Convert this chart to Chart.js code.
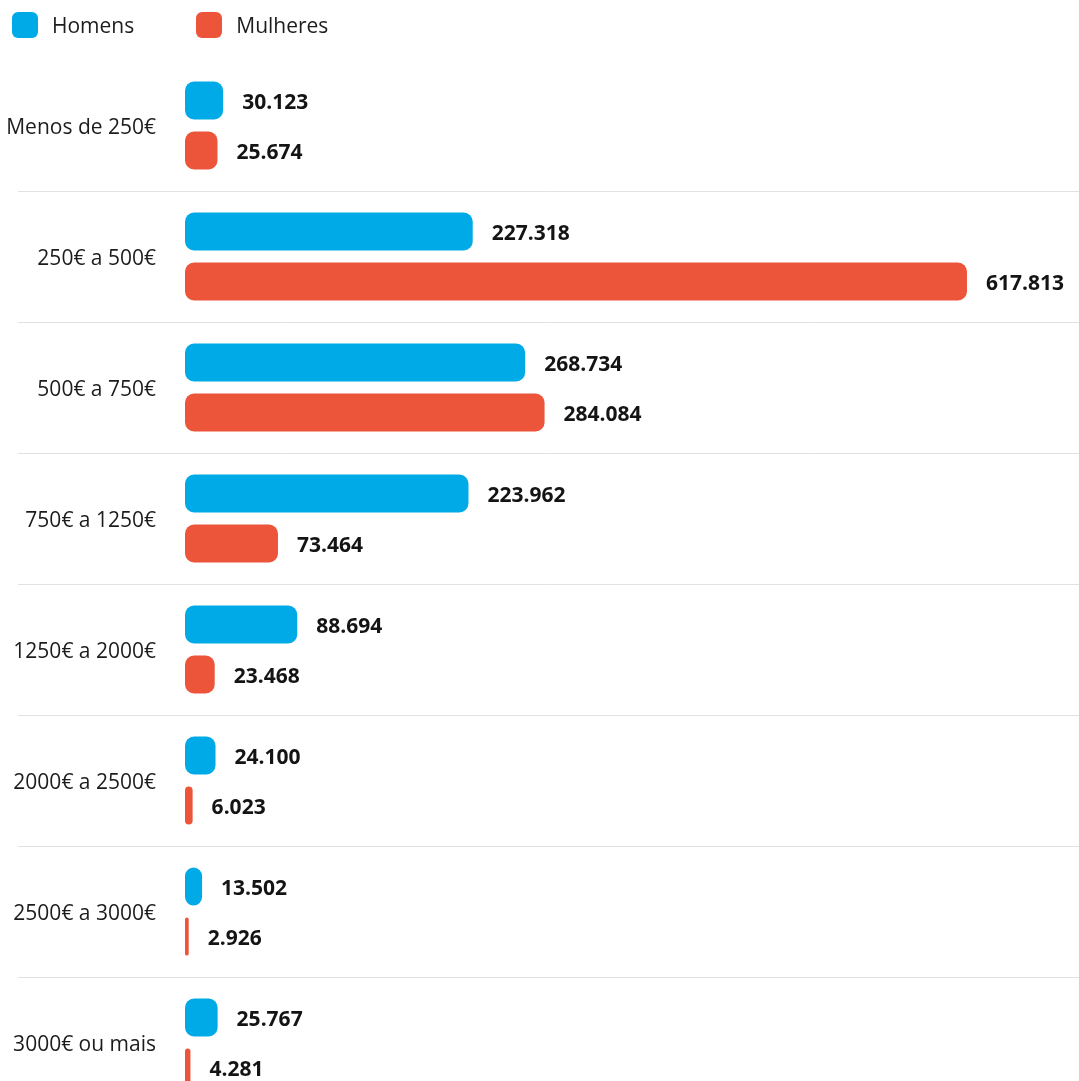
<!DOCTYPE html>
<html>
<head>
<meta charset="utf-8">
<script src="https://cdn.jsdelivr.net/npm/chart.js@4.4.1/dist/chart.umd.min.js"></script>
<style>
  html, body { margin: 0; padding: 0; background: #ffffff; overflow: hidden; }
  body { width: 1079px; height: 1081px; position: relative; font-family: "Open Sans", "Noto Sans", sans-serif; }
  #wrap { position: absolute; left: 0; top: 0; width: 1079px; height: 1108px; }
  #c { display: block; width: 1079px; height: 1108px; }
  #legend { position: absolute; left: 12px; top: 12px; display: flex; align-items: center; z-index: 2; }
  .item { display: flex; align-items: center; margin-right: 62px; }
  .box { width: 26px; height: 26px; border-radius: 6px; margin-right: 14px; }
  .txt { font-size: 21px; color: #1c1c1c; line-height: 26px; }
</style>
</head>
<body>
<div id="legend"></div>
<div id="wrap"><canvas id="c" width="1079" height="1108"></canvas></div>
<script>
const categories = ["Menos de 250€", "250€ a 500€", "500€ a 750€", "750€ a 1250€", "1250€ a 2000€", "2000€ a 2500€", "2500€ a 3000€", "3000€ ou mais"];
const seriesNames = ["Homens", "Mulheres"];
const homens = [30123, 227318, 268734, 223962, 88694, 24100, 13502, 25767];
const mulheres = [25674, 617813, 284084, 73464, 23468, 6023, 2926, 4281];
const colors = ["#00AAE6", "#EC553A"];
const xMax = 700000;

function fmt(v) {
  return String(v).replace(/\B(?=(\d{3})+(?!\d))/g, ".");
}

const FONT = "'Open Sans', 'Noto Sans', sans-serif";

const separators = {
  id: "separators",
  beforeDatasetsDraw(chart) {
    const y = chart.scales.y;
    const ctx = chart.ctx;
    ctx.save();
    ctx.strokeStyle = "#e2e2e2";
    ctx.lineWidth = 1;
    for (let i = 0; i < categories.length - 1; i++) {
      const a = y.getPixelForValue(i);
      const b = y.getPixelForValue(i + 1);
      const py = Math.round((a + b) / 2) + 0.5;
      ctx.beginPath();
      ctx.moveTo(18, py);
      ctx.lineTo(chart.width, py);
      ctx.stroke();
    }
    ctx.restore();
  }
};

const valueLabels = {
  id: "valueLabels",
  afterDatasetsDraw(chart) {
    const ctx = chart.ctx;
    ctx.save();
    ctx.font = "bold 21px " + FONT;
    ctx.fillStyle = "#141414";
    ctx.textAlign = "left";
    ctx.textBaseline = "middle";
    chart.data.datasets.forEach((ds, di) => {
      const meta = chart.getDatasetMeta(di);
      meta.data.forEach((bar, i) => {
        ctx.fillText(fmt(ds.data[i]), bar.x + 19, bar.y + 2.5);
      });
    });
    ctx.restore();
  }
};

const chart = new Chart(document.getElementById("c"), {
  type: "bar",
  data: {
    labels: categories,
    datasets: [
      { label: seriesNames[0], data: homens, backgroundColor: colors[0] },
      { label: seriesNames[1], data: mulheres, backgroundColor: colors[1] }
    ]
  },
  options: {
    indexAxis: "y",
    responsive: false,
    animation: false,
    layout: { padding: { top: 60, right: 8, bottom: 0, left: 0 } },
    datasets: {
      bar: {
        categoryPercentage: 0.7634,
        barPercentage: 0.76,
        borderRadius: 9,
        borderSkipped: false
      }
    },
    plugins: {
      legend: { display: false },
      tooltip: { enabled: false }
    },
    scales: {
      x: { display: false, min: 0, max: xMax },
      y: {
        grid: { display: false },
        border: { display: false },
        afterFit(scale) {
          scale.width = 185;
          scale.paddingTop = 0;
          scale.paddingBottom = 0;
        },
        ticks: {
          padding: 21,
          labelOffset: 2.5,
          color: "#1c1c1c",
          font: { family: FONT, size: 21 }
        }
      }
    }
  },
  plugins: [separators, valueLabels]
});

const legendEl = document.getElementById("legend");
chart.data.datasets.forEach((ds) => {
  const item = document.createElement("div");
  item.className = "item";
  const box = document.createElement("div");
  box.className = "box";
  box.style.background = ds.backgroundColor;
  const t = document.createElement("span");
  t.className = "txt";
  t.textContent = ds.label;
  item.appendChild(box);
  item.appendChild(t);
  legendEl.appendChild(item);
});
</script>
</body>
</html>
